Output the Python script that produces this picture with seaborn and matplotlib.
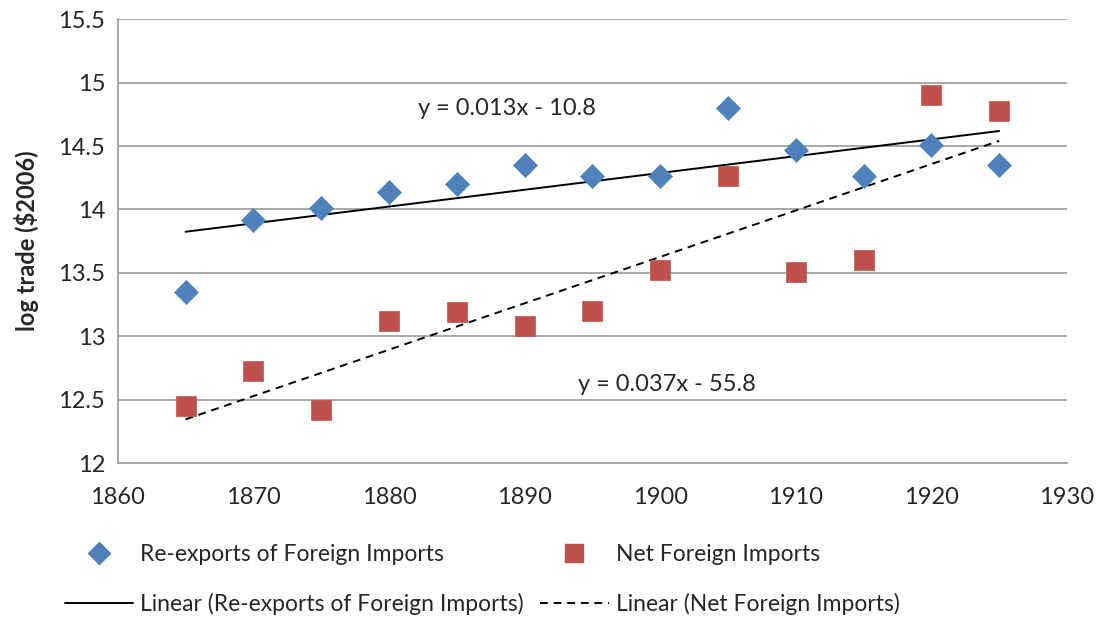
import numpy as np
import pandas as pd
import matplotlib
matplotlib.use("Agg")
import matplotlib.pyplot as plt
import seaborn as sns
from matplotlib.lines import Line2D

years = [1865, 1870, 1875, 1880, 1885, 1890, 1895, 1900, 1905, 1910, 1915, 1920, 1925]
reexports = [13.35, 13.92, 14.01, 14.14, 14.20, 14.35, 14.26, 14.26, 14.80, 14.47, 14.26, 14.51, 14.35]
net_imports = [12.45, 12.73, 12.42, 13.12, 13.19, 13.08, 13.20, 13.52, 14.26, 13.51, 13.60, 14.90, 14.78]

blue = "#4F81BD"
red = "#C0504D"

sns.set_theme(style="white")
plt.rcParams['font.family'] = ['Lato', 'DejaVu Sans']

df = pd.DataFrame({"year": years, "reexp": reexports, "net": net_imports})

fig = plt.figure(figsize=(11, 6.2), dpi=100)
ax = fig.add_axes([0.107, 0.253, 0.863, 0.716])

# linear trendlines (seaborn's own fit)
sns.regplot(data=df, x="year", y="reexp", ax=ax, scatter=False, ci=None, truncate=True,
            line_kws=dict(color="black", lw=1.4))
sns.regplot(data=df, x="year", y="net", ax=ax, scatter=False, ci=None, truncate=True,
            line_kws=dict(color="black", lw=1.4, linestyle=(0, (4, 3))))
sns.scatterplot(data=df, x="year", y="reexp", ax=ax, marker="D", s=150, color=blue,
                edgecolor=blue, linewidth=0.5, zorder=3)
sns.scatterplot(data=df, x="year", y="net", ax=ax, marker="s", s=210, color=red,
                edgecolor=red, linewidth=0.5, zorder=3)

ax.set_xlim(1860, 1930)
ax.set_ylim(12, 15.5)
ax.set_xticks(np.arange(1860, 1931, 10))
ax.set_yticks([12, 12.5, 13, 13.5, 14, 14.5, 15, 15.5])
ax.set_yticklabels(["12", "12.5", "13", "13.5", "14", "14.5", "15", "15.5"])
ax.tick_params(axis="y", labelsize=17, length=0, pad=9)
ax.tick_params(axis="x", labelsize=17, length=0, pad=17)
ax.yaxis.grid(True, color="#A0A0A0", lw=1.3)
ax.set_axisbelow(True)
for s in ["top", "right"]:
    ax.spines[s].set_visible(False)
for s in ["left", "bottom"]:
    ax.spines[s].set_color("#A0A0A0")
    ax.spines[s].set_linewidth(1.3)
ax.set_xlabel("")
ax.set_ylabel("log trade ($2006)", fontsize=17, fontweight="bold", labelpad=14)

ax.text(1888.7, 14.80, "y = 0.013x - 10.8", fontsize=17, ha="center", va="center")
ax.text(1900.5, 12.62, "y = 0.037x - 55.8", fontsize=17, ha="center", va="center")

handles = [
    Line2D([], [], marker="D", color=blue, ls="none", markersize=11),
    Line2D([], [], color="black", lw=1.4),
    Line2D([], [], marker="s", color=red, ls="none", markersize=13),
    Line2D([], [], color="black", lw=1.4, linestyle=(0, (4, 3))),
]
labels = ["Re-exports of Foreign Imports", "Linear (Re-exports of Foreign Imports)",
          "Net Foreign Imports", "Linear (Net Foreign Imports)"]
fig.legend(handles, labels, ncol=2, loc="lower left", bbox_to_anchor=(0.04, -0.026),
           frameon=False, fontsize=16.5, handlelength=3.0, handletextpad=0.3,
           columnspacing=0.7, labelspacing=1.25)

fig.savefig("out.png", dpi=100)
